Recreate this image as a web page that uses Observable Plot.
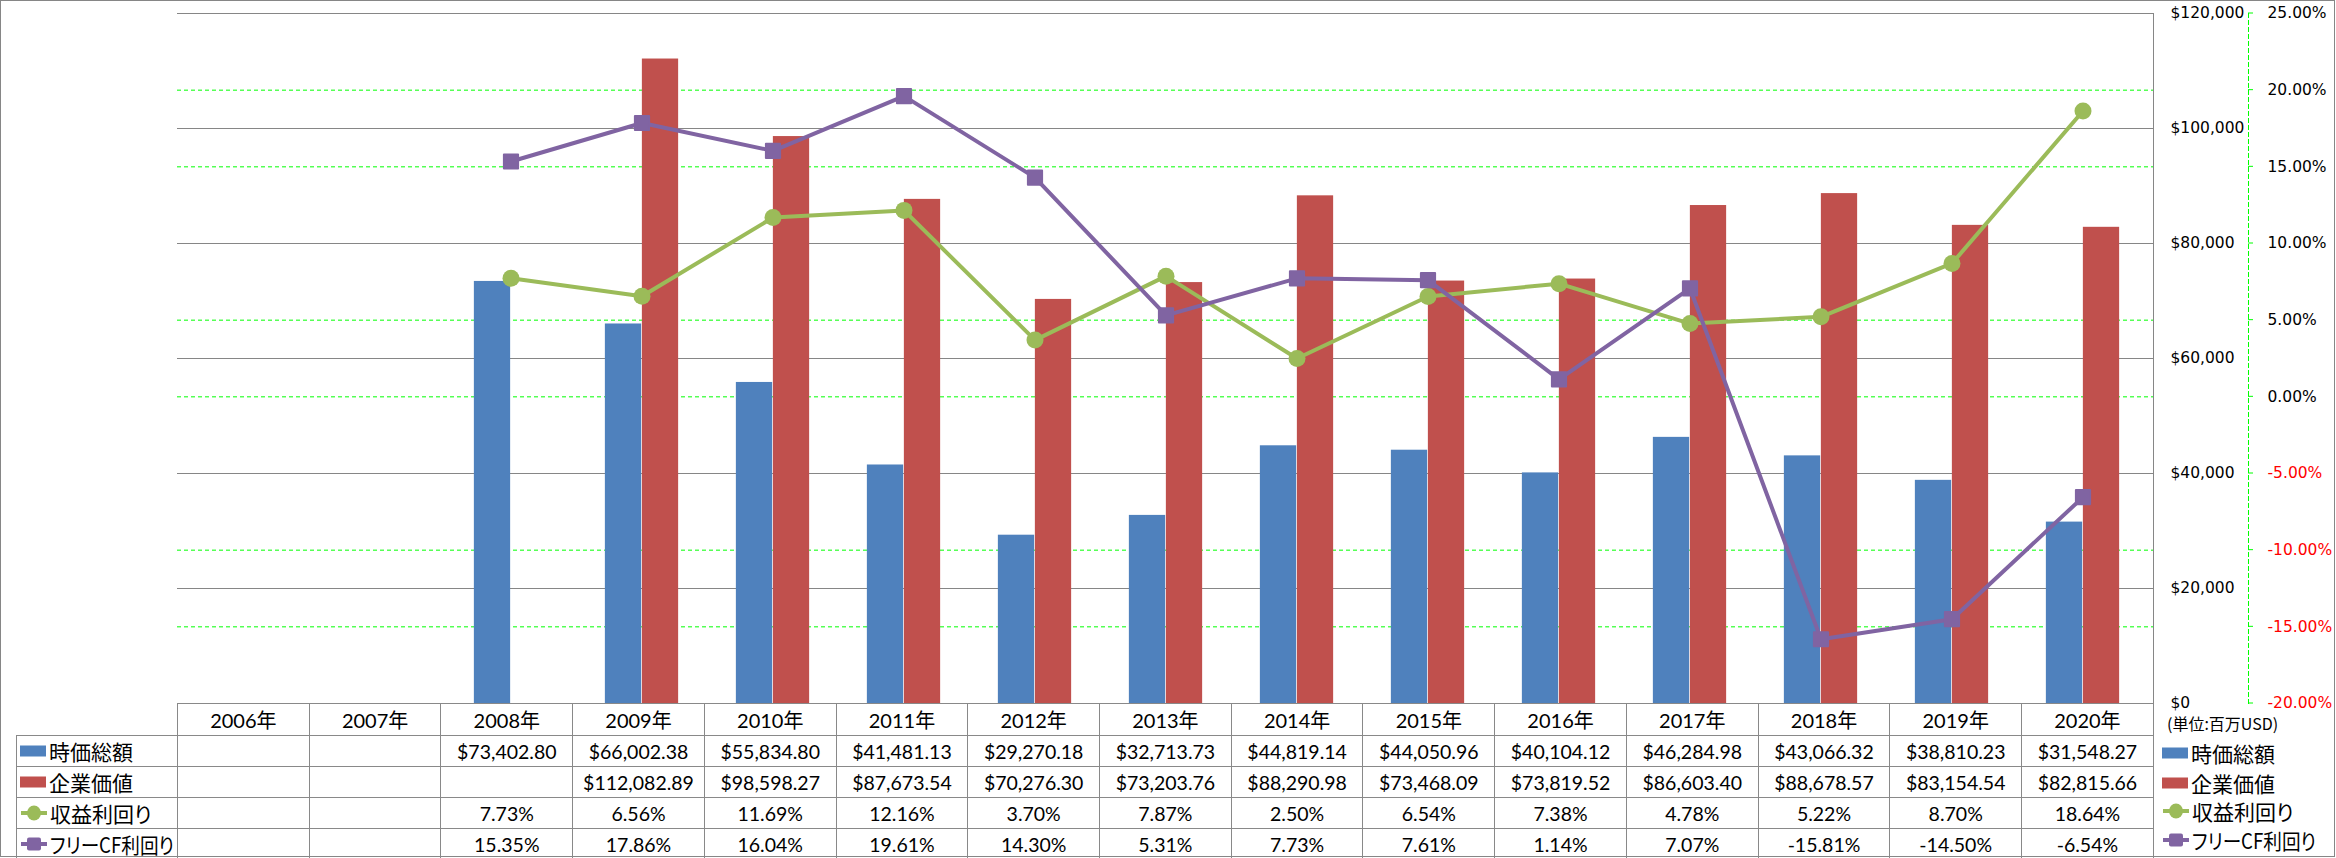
<!DOCTYPE html>
<html><head><meta charset="utf-8">
<script src="https://cdn.jsdelivr.net/npm/d3@7"></script>
<script src="https://cdn.jsdelivr.net/npm/@observablehq/plot@0.6"></script>
<style>
body{margin:0;background:#fff;}
#wrap{position:relative;width:2336px;height:858px;overflow:hidden;font-family:Lato,"Noto Sans CJK JP",sans-serif;color:#000;}
#border{position:absolute;left:0;top:0;width:2333px;height:855px;border:1px solid #868686;pointer-events:none;}
#tbl{position:absolute;left:16px;top:703px;border-collapse:collapse;table-layout:fixed;font-size:19.5px;width:2137px;}
#tbl td{border:1px solid #898989;text-align:center;padding:0;white-space:nowrap;overflow:hidden;}
#tbl td.blank{border-top:none;border-left:none;}
#tbl td.lab{text-align:left;padding-left:3px;}
.jp{font-family:"Noto Sans CJK JP",sans-serif;font-size:21px;font-feature-settings:"palt";vertical-align:middle;display:inline-block;transform-origin:0 50%;}
.sw{display:inline-block;vertical-align:middle;margin-right:2px;}
.yr{font-family:Lato,"Noto Sans CJK JP",sans-serif;font-size:20px;}
#leg{position:absolute;left:2162px;top:703px;}
#leg div{position:absolute;left:0;white-space:nowrap;height:30px;line-height:30px;}
#unit{position:absolute;left:2167px;top:711px;font-family:"Noto Sans CJK JP",sans-serif;font-size:16px;line-height:24px;white-space:nowrap;}
</style>
</head><body>
<div id="wrap"><div id="border"></div></div>
<script>
const years = ["2006年","2007年","2008年","2009年","2010年","2011年","2012年","2013年","2014年","2015年","2016年","2017年","2018年","2019年","2020年"];
const marketCap = [null,null,73402.80,66002.38,55834.80,41481.13,29270.18,32713.73,44819.14,44050.96,40104.12,46284.98,43066.32,38810.23,31548.27];
const enterpriseValue = [null,null,null,112082.89,98598.27,87673.54,70276.30,73203.76,88290.98,73468.09,73819.52,86603.40,88678.57,83154.54,82815.66];
const earningsYield = [null,null,7.73,6.56,11.69,12.16,3.70,7.87,2.50,6.54,7.38,4.78,5.22,8.70,18.64];
const fcfYield = [null,null,15.35,17.86,16.04,19.61,14.30,5.31,7.73,7.61,1.14,7.07,-15.81,-14.50,-6.54];
const dollarTicks = [0,20000,40000,60000,80000,100000,120000];
const pctTicks = [-20,-15,-10,-5,0,5,10,15,20,25];
const seriesNames = ["時価総額","企業価値","収益利回り","フリーCF利回り"];
const colors = ["#4f81bd","#c0504d","#9bbb59","#8064a2"];

// secondary (percent) axis mapped onto the dollar scale: -20% .. 25% <-> $0 .. $120,000
const toY = p => (p + 20) / 45 * 120000;

const rows = years.map((year, i) => ({year, mc: marketCap[i], ev: enterpriseValue[i], ey: earningsYield[i], fcf: fcfYield[i]}));
const W = 2336, H = 858, mL = 177, mR = 183, mT = 13, mB = 155;
const bw = (W - mL - mR) / years.length;
const barW = 37;
const fmtDollar = d => "$" + d3.format(",")(d);
const fmtPct = p => p.toFixed(2) + "%";

const eyRows = rows.filter(d => d.ey != null);
const fcfRows = rows.filter(d => d.fcf != null);

const chart = Plot.plot({
  width: W, height: H, marginTop: mT, marginBottom: mB, marginLeft: mL, marginRight: mR,
  style: {fontFamily: "'DejaVu Sans', Verdana, sans-serif", fontSize: "15.5px", color: "#000", background: "transparent", overflow: "visible"},
  x: {type: "band", domain: years, padding: 0, axis: null},
  y: {domain: [0, 120000]},
  marks: [
    Plot.ruleY(pctTicks.filter(p => p > -20 && p < 25).map(toY), {stroke: "#00ff00", strokeDasharray: "4,3", strokeWidth: 1}),
    Plot.ruleY(dollarTicks.filter(d => d > 0), {stroke: "#868686", strokeWidth: 1}),
    Plot.barY(rows.filter(d => d.mc != null), {x: "year", y: "mc", fill: colors[0], insetLeft: bw / 2 - barW, insetRight: bw / 2}),
    Plot.barY(rows.filter(d => d.ev != null), {x: "year", y: "ev", fill: colors[1], insetLeft: bw / 2, insetRight: bw / 2 - barW}),
    Plot.line(eyRows, {x: "year", y: d => toY(d.ey), stroke: colors[2], strokeWidth: 4}),
    Plot.dot(eyRows, {x: "year", y: d => toY(d.ey), r: 8.5, fill: colors[2]}),
    Plot.line(fcfRows, {x: "year", y: d => toY(d.fcf), stroke: colors[3], strokeWidth: 4}),
    Plot.dot(fcfRows, {x: "year", y: d => toY(d.fcf), symbol: "square", r: 8, fill: colors[3], stroke: colors[3], strokeWidth: 2, strokeLinejoin: "round"}),
    Plot.frame({anchor: "right", stroke: "#868686"}),
    Plot.axisY(dollarTicks, {anchor: "right", tickSize: 0, tickPadding: 17, tickFormat: fmtDollar, fill: "#000", fontSize: 15.5}),
    Plot.text(pctTicks.filter(p => p >= 0), {y: p => toY(p), text: fmtPct, frameAnchor: "right", textAnchor: "start", dx: 114, fill: "#000", fontSize: 15.5}),
    Plot.text(pctTicks.filter(p => p < 0), {y: p => toY(p), text: fmtPct, frameAnchor: "right", textAnchor: "start", dx: 114, fill: "#ff0000", fontSize: 15.5}),
    Plot.frame({anchor: "right", dx: 95, stroke: "#00ff00", strokeDasharray: "4,3"})
  ]
});

chart.style.position = "absolute";
chart.style.left = "0px";
chart.style.top = "0px";
const wrap = document.getElementById("wrap");
wrap.insertBefore(chart, wrap.firstChild);

// small ticks on the percent axis line
const ys = chart.scale("y");
d3.select(chart).append("g").attr("stroke", "#00ff00")
  .selectAll("line").data(pctTicks).join("line")
  .attr("x1", W - mR + 95).attr("x2", W - mR + 100)
  .attr("y1", p => ys.apply(toY(p))).attr("y2", p => ys.apply(toY(p)));

// swatches
function swatch(i) {
  if (i < 2) return `<svg class="sw" width="27" height="12"><rect x="0" y="0.5" width="26" height="11" fill="${colors[i]}"/></svg>`;
  const mk = i === 2
    ? `<ellipse cx="14" cy="8" rx="7" ry="7.5" fill="${colors[i]}"/>`
    : `<rect x="7" y="1.5" width="14" height="13" rx="2" fill="${colors[i]}"/>`;
  return `<svg class="sw" width="28" height="16"><line x1="1" x2="27" y1="8" y2="8" stroke="${colors[i]}" stroke-width="4"/>${mk}</svg>`;
}

// data table
const tbl = document.createElement("table");
tbl.id = "tbl";
const heights = [32, 30, 31, 31, 29];
let html = `<colgroup><col style="width:161px">${years.map(() => `<col style="width:${bw}px">`).join("")}</colgroup>`;
html += `<tr style="height:${heights[0]}px"><td class="blank"></td>${years.map(y => `<td class="yr">${y}</td>`).join("")}</tr>`;
const vals = [marketCap.map(v => v == null ? "" : "$" + d3.format(",.2f")(v)),
              enterpriseValue.map(v => v == null ? "" : "$" + d3.format(",.2f")(v)),
              earningsYield.map(v => v == null ? "" : fmtPct(v)),
              fcfYield.map(v => v == null ? "" : fmtPct(v))];
seriesNames.forEach((name, i) => {
  html += `<tr style="height:${heights[i + 1]}px"><td class="lab">${swatch(i)}<span class="jp">${name}</span></td>${vals[i].map(v => `<td>${v}</td>`).join("")}</tr>`;
});
tbl.innerHTML = html;
wrap.appendChild(tbl);

// unit label and right legend
const unit = document.createElement("div");
unit.id = "unit";
unit.textContent = "(単位:百万USD)";
wrap.appendChild(unit);
const leg = document.createElement("div");
leg.id = "leg";
const centers = [48, 78, 106, 135];
leg.innerHTML = seriesNames.map((n, i) => `<div style="top:${centers[i] - 15}px">${swatch(i)}<span class="jp">${n}</span></div>`).join("");
wrap.appendChild(leg);

// squeeze long labels horizontally so they fit their space
document.querySelectorAll(".jp").forEach(el => {
  const maxW = 124;
  const w = el.getBoundingClientRect().width;
  if (w > maxW) el.style.transform = `scaleX(${maxW / w})`;
});
</script>
</body></html>
